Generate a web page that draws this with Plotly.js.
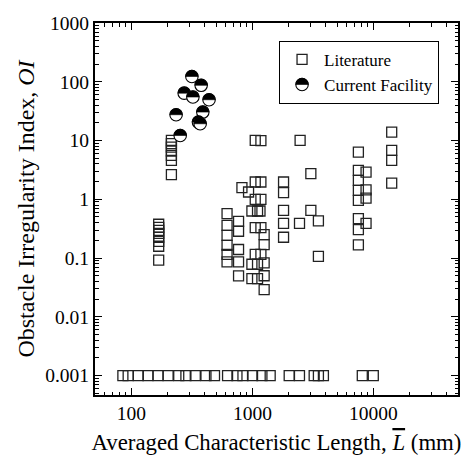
<!DOCTYPE html>
<html><head><meta charset="utf-8">
<script src="https://cdn.plot.ly/plotly-3.0.1.min.js"></script>
<style>html,body{margin:0;padding:0;background:#fff;} #chart{width:465px;height:455px;}</style>
</head><body><div id="chart"></div>
<script>
// Literature data (Averaged characteristic length in mm, OI)
const litX = [
  214,214,214,214,214,214,214,
  168,168,168,168,168,168,168,168,
  617,617,617,617,617,617,
  768,768,768,768,768,
  819,929,1055,1175,1055,1175,990,1102,1155,1055,1175,1055,1175,
  1250,1250,1250,1250,1250,1055,1175,990,1102,990,1102,
  1808,1808,1808,1808,1808,
  2478,2450,3040,3040,3510,3510,
  7510,7510,7510,7510,7510,7510,7510,7510,
  8690,8690,8690,8690,
  14160,14160,14160,14160
];
const litY = [
  10.1,8.85,7.75,6.6,5.6,4.6,2.63,
  0.376,0.334,0.297,0.264,0.226,0.193,0.159,0.092,
  0.571,0.361,0.244,0.165,0.116,0.086,
  0.422,0.286,0.14,0.086,0.0497,
  1.58,1.33,1.97,1.97,1.0,1.0,0.632,0.632,0.632,10.1,10.0,0.33,0.33,
  0.25,0.17,0.083,0.05,0.029,0.116,0.116,0.0785,0.0785,0.0448,0.0448,
  1.97,1.30,0.65,0.39,0.226,
  10.1,0.39,2.73,0.65,0.43,0.107,
  6.37,3.11,2.1,1.42,0.96,0.47,0.305,0.168,
  2.9,1.45,1.05,0.39,
  13.9,6.8,4.6,1.89
];
// Literature cases plotted on the OI = 0.001 floor
const floorX = [85,94,114,137,166,201,246,282,337,413,486,623,745,835,1002,1198,1402,2013,2448,3238,3510,3860,8090,9975];
const floorY = [0.001,0.001,0.001,0.001,0.001,0.001,0.001,0.001,0.001,0.001,0.001,0.001,0.001,0.001,0.001,0.001,0.001,0.001,0.001,0.001,0.001,0.001,0.001,0.001];
// Current facility
const facX = [316,377,273,322,438,234,389,358,370,253];
const facY = [123,87,64,55,49.5,27.5,30.5,20.6,19.3,12.2];
// Tick labels
const xTickVals = [100, 1000, 10000];
const xTickText = ['100', '1000', '10000'];
const yTickVals = [0.001, 0.01, 0.1, 1, 10, 100, 1000];
const yTickText = ['0.001', '0.01', '0.1', '1', '10', '100', '1000'];

const FONT = '"Liberation Serif", "Times New Roman", Times, serif';
const sqMarker = {symbol:'square-open', size:10, color:'#222', line:{width:1.3, color:'#222'}};
const data = [
  {x: litX.concat(floorX), y: litY.concat(floorY), type:'scatter', mode:'markers', name:'Literature', marker: sqMarker},
  {x: facX, y: facY, type:'scatter', mode:'markers', name:'Current Facility',
   marker:{symbol:'circle', size:12.5, color:'#fff', line:{width:1.1, color:'#000'}}}
];
const axBase = {
  type:'log', showline:true, linewidth:2, linecolor:'#000', mirror:'ticks',
  ticks:'inside', ticklen:7, tickwidth:1.3, tickcolor:'#000',
  showgrid:false, zeroline:false, tickmode:'array',
  minor:{tickmode:'linear', dtick:'D1', ticks:'inside', ticklen:3.5, tickwidth:1, tickcolor:'#000', showgrid:false},
  tickfont:{family:FONT, size:19.5, color:'#000'}
};
const layout = {
  width:465, height:455,
  margin:{l:95, r:7, t:23, b:60},
  paper_bgcolor:'#fff', plot_bgcolor:'#fff',
  font:{family:FONT, color:'#000'},
  showlegend:true,
  legend:{x:0.507, y:0.952, xanchor:'left', yanchor:'top', bgcolor:'#fff', itemwidth:34,
          bordercolor:'#000', borderwidth:1, font:{family:FONT, size:17, color:'#000'}},
  xaxis: Object.assign({}, axBase, {range:[Math.log10(50), Math.log10(50000)],
    tickvals:xTickVals, ticktext:xTickText,
    title:{text:'Averaged Characteristic Length, <span style="text-decoration:overline"><i>L</i></span> (mm)', font:{family:FONT, size:22.8, color:'#000'}, standoff:11}}),
  yaxis: Object.assign({}, axBase, {range:[-3.33, 3],
    tickvals:yTickVals, ticktext:yTickText,
    title:{text:'Obstacle Irregularity Index, <i>OI</i>', font:{family:FONT, size:24, color:'#000'}, standoff:4}})
};
Plotly.newPlot('chart', data, layout, {displayModeBar:false}).then(function(gd){
  // paint the upper half of each facility marker black
  function halfFill(paths){
    paths.forEach(function(p){
      var r = 6.25;
      var h = document.createElementNS('http://www.w3.org/2000/svg','path');
      h.setAttribute('d','M'+r+',0A'+r+','+r+' 0 0,0 -'+r+',0Z');
      h.setAttribute('transform', p.getAttribute('transform') || '');
      h.setAttribute('style','fill:#000;stroke:#000;stroke-width:0.6');
      p.parentNode.insertBefore(h, p.nextSibling);
    });
  }
  var tr = gd.querySelectorAll('.scatterlayer .trace');
  if (tr[1]) halfFill(Array.from(tr[1].querySelectorAll('path.point')));
  var lg = gd.querySelectorAll('.legend .traces');
  if (lg[1]) halfFill(Array.from(lg[1].querySelectorAll('path.scatterpts')));
});
</script>
</body></html>
